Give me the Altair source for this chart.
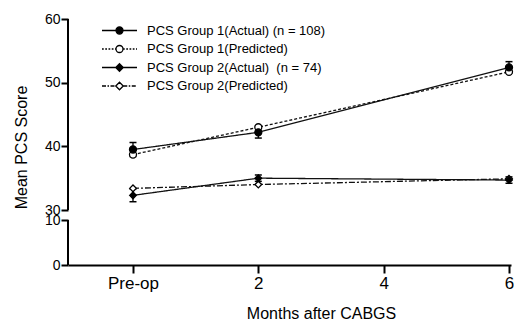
import altair as alt
import pandas as pd

# ---- data ----
months = [0, 2, 6]
x_ticks = [0, 2, 4, 6]
y_ticks = [0, 10, 30, 40, 50, 60]
series_names = [
    "PCS Group 1(Actual) (n = 108)",
    "PCS Group 1(Predicted)",
    "PCS Group 2(Actual)\u00a0 (n = 74)",
    "PCS Group 2(Predicted)",
]
g1_actual = [39.5, 42.2, 52.4]
g1_actual_se = [1.1, 0.9, 0.9]
g1_pred = [38.7, 43.0, 51.7]
g2_actual = [32.3, 35.0, 34.7]
g2_actual_se = [1.0, 0.5, 0.5]
g2_pred = [33.4, 34.0, 34.9]
axis_lo = [0, 30]
axis_hi = [10, 60]

rows = []
for name, vals, ses in [
    (series_names[1], g1_pred, [0, 0, 0]),
    (series_names[3], g2_pred, [0, 0, 0]),
    (series_names[0], g1_actual, g1_actual_se),
    (series_names[2], g2_actual, g2_actual_se),
]:
    for m, v, s in zip(months, vals, ses):
        rows.append({"month": m, "value": v, "lo": v - s, "hi": v + s, "series": name})
df = pd.DataFrame(rows)
axis_df = pd.DataFrame({"lo": axis_lo, "hi": axis_hi})

# ---- legend symbol geometry (line + marker) ----
L, R, D = 3.5, 0.7, 0.75


def segs(a, b, pattern):
    out, x, i = [], a, 0
    while x < b - 1e-9:
        ln = pattern[i % len(pattern)]
        if i % 2 == 0:
            out.append(f"M{x:.2f},0H{min(x + ln, b):.2f}")
        x += ln
        i += 1
    return "".join(out)


circle = f"M{R},0A{R},{R},0,1,1,{-R},0A{R},{R},0,1,1,{R},0Z"
diamond = f"M0,{-D}L{D},0L0,{D}L{-D},0Z"
dot = [0.35, 0.3]
dashdot = [0.8, 0.3, 0.3, 0.3]
paths = [
    f"M{-L},0H{L}" + circle,
    segs(-L, -R, dot) + segs(R, L, dot) + circle,
    f"M{-L},0H{L}" + diamond,
    segs(-L, -D, dashdot) + segs(D, L, dashdot) + diamond,
]

FONT = "Liberation Sans"
x_scale = alt.Scale(domain=[-1.037, 6.032], nice=False, zero=False)
y_scale = alt.Scale(domain=[0, 10, 30, 60], range=[246, 201, 191, 0], nice=False, zero=False)

x_axis = alt.Axis(
    values=x_ticks, labelExpr="datum.value == 0 ? 'Pre-op' : '' + datum.value",
    grid=False, tickSize=8, tickWidth=2, domainWidth=2, domainColor="black", tickColor="black",
    labelFontSize=17, labelPadding=2, labelColor="black", labelFont=FONT,
    labelOverlap=False, labelFlush=False, labelBound=False,
    title="Months after CABGS", titleFontSize=16, titleFont=FONT, titleFontWeight="normal",
    titleColor="black", titleX=253, titleY=48, titleAlign="center", titleBaseline="middle",
)
y_axis = alt.Axis(
    values=y_ticks, domain=False, grid=False, tickSize=7, tickWidth=2, tickColor="black",
    labelFontSize=14, labelPadding=1, labelColor="black", labelFont=FONT,
    labelOverlap=False, labelFlush=False, labelBound=False,
    title="Mean PCS Score", titleFontSize=16, titleFont=FONT, titleFontWeight="normal",
    titleColor="black", titleX=-47, titleY=128, titleBaseline="middle",
)

X = alt.X("month:Q", scale=x_scale, axis=x_axis)
Y = alt.Y("value:Q", scale=y_scale, axis=y_axis)

yaxis_lines = alt.Chart(axis_df).mark_rule(color="black", strokeWidth=2).encode(
    x=alt.value(0), y=alt.Y("lo:Q", scale=y_scale), y2="hi:Q"
)

actual = df[df["series"].isin([series_names[0], series_names[2]])]
err_rule = alt.Chart(actual).mark_rule(color="black", strokeWidth=1.3).encode(
    x=X, y=alt.Y("lo:Q", scale=y_scale, axis=y_axis), y2="hi:Q"
)
err_lo = alt.Chart(actual).mark_tick(orient="horizontal", size=7, thickness=1.5, color="black", opacity=1).encode(
    x="month:Q", y=alt.Y("lo:Q", scale=y_scale)
)
err_hi = alt.Chart(actual).mark_tick(orient="horizontal", size=7, thickness=1.5, color="black", opacity=1).encode(
    x="month:Q", y=alt.Y("hi:Q", scale=y_scale)
)


def line(name, dash):
    return alt.Chart(df[df["series"] == name]).mark_line(
        color="#111111", strokeWidth=1.3, strokeDash=dash
    ).encode(x="month:Q", y=alt.Y("value:Q", scale=y_scale))


def pts(name, shape, fill, size):
    return alt.Chart(df[df["series"] == name]).mark_point(
        shape=shape, filled=True, fill=fill, stroke="black", strokeWidth=1.3, size=size, opacity=1
    ).encode(x="month:Q", y=alt.Y("value:Q", scale=y_scale))


leg = alt.Legend(
    title=None, orient="top-left", offset=5, symbolOffset=40, padding=0, rowPadding=4.5,
    labelOffset=21, labelFontSize=13, labelFont=FONT, labelColor="black", labelLimit=400,
    symbolSize=100, symbolOpacity=1, symbolStrokeWidth=1.3,
)
# legend-only layer: no rows pass the filter, the explicit domains give the legend entries
legend_layer = alt.Chart(df).transform_filter("false").mark_point(
    filled=True, size=100, stroke="black", strokeWidth=1.3, opacity=1
).encode(
    x="month:Q", y=alt.Y("value:Q", scale=y_scale),
    color=alt.Color("series:N", scale=alt.Scale(domain=series_names,
                    range=["black", "white", "black", "white"]), legend=leg),
    shape=alt.Shape("series:N", scale=alt.Scale(domain=series_names, range=paths), legend=leg),
)

chart = alt.layer(
    err_rule, yaxis_lines, err_lo, err_hi,
    line(series_names[0], [1, 0]),
    line(series_names[1], [3, 2]),
    line(series_names[2], [1, 0]),
    line(series_names[3], [6, 2, 2, 2]),
    pts(series_names[1], "circle", "white", 49),
    pts(series_names[3], "diamond", "white", 45),
    pts(series_names[0], "circle", "black", 49),
    pts(series_names[2], "diamond", "black", 45),
    legend_layer,
).properties(
    width=443, height=246,
    padding={"left": 60, "top": 11, "right": 3, "bottom": 55},
    autosize=alt.AutoSizeParams(type="none"),
).configure_view(stroke=None)

chart.save("out.html", embed_options={"renderer": "svg", "actions": False})
